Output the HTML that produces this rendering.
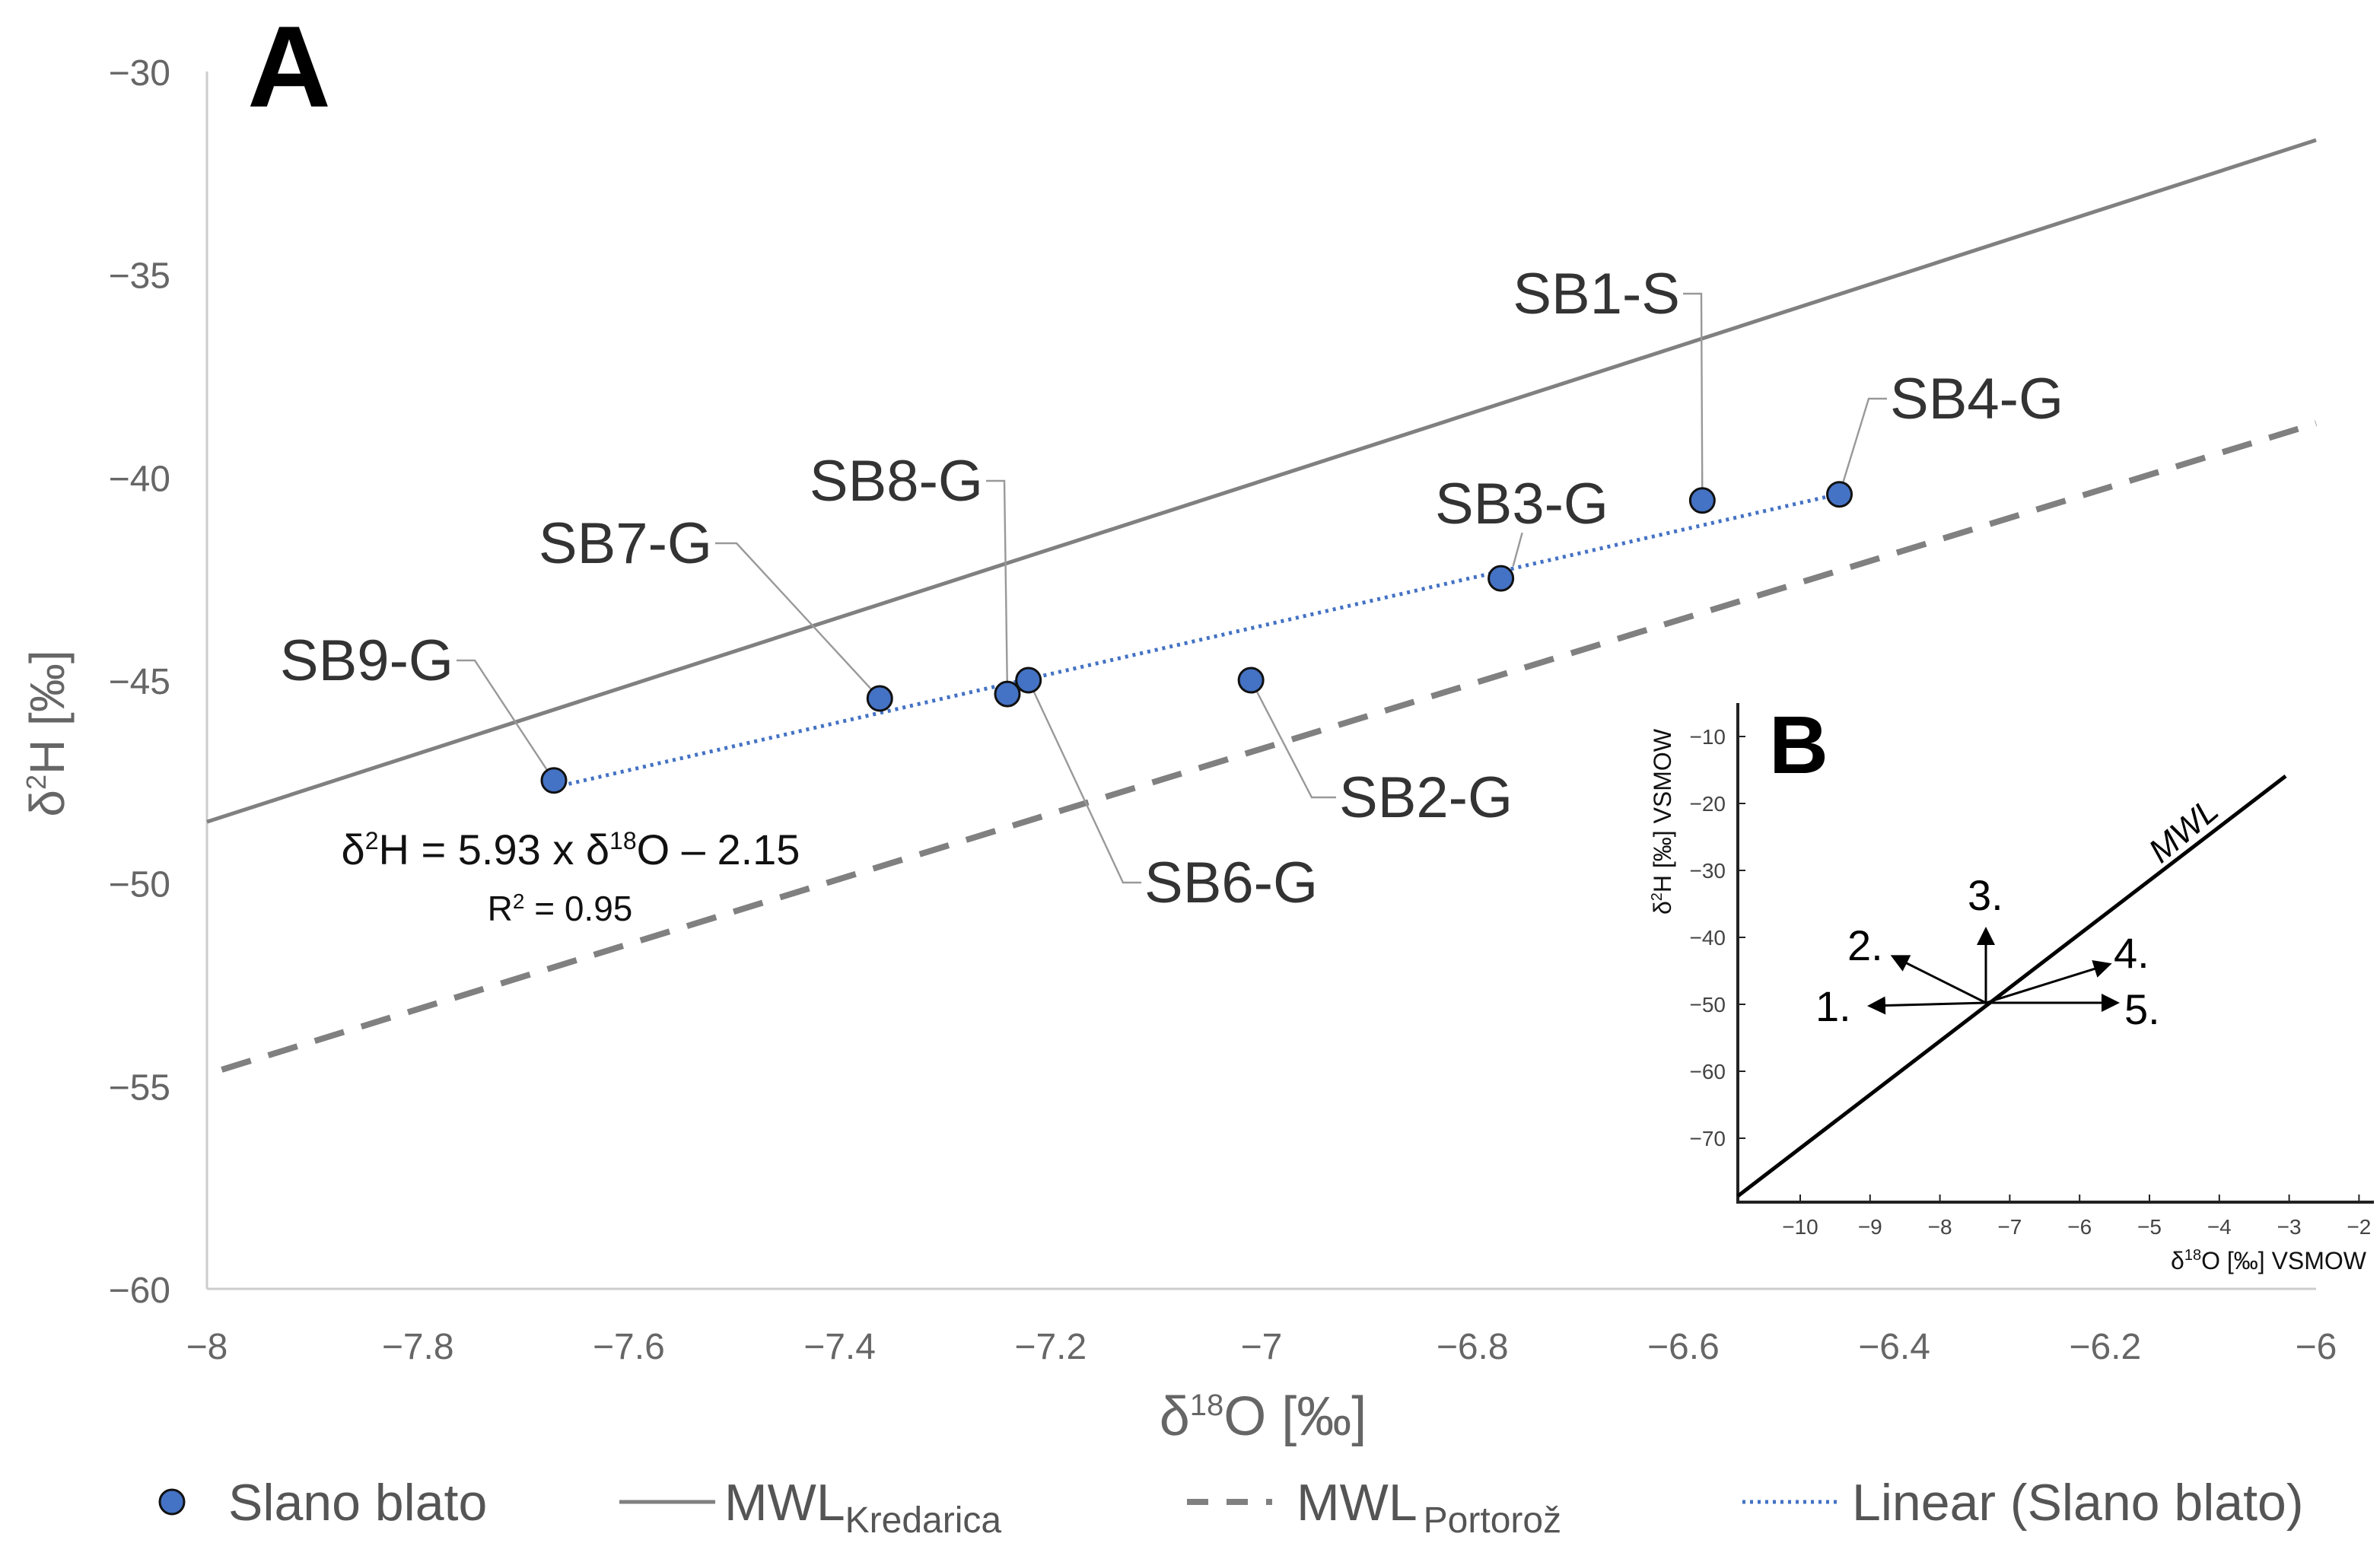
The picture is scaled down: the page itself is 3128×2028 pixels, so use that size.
<!DOCTYPE html>
<html><head><meta charset="utf-8"><style>
html,body{margin:0;padding:0;background:#fff}
svg{display:block}
text{font-family:"Liberation Sans",sans-serif}
</style></head><body>
<svg id="c" width="3128" height="2028" viewBox="0 0 1564 1014"></svg>
<script>
const names=["SB9-G","SB7-G","SB8-G","SB6-G","SB2-G","SB3-G","SB1-S","SB4-G"];
const d18O=[-7.671,-7.362,-7.241,-7.221,-7.010,-6.773,-6.582,-6.452];
const d2H=[-47.47,-45.45,-45.34,-45.0,-45.0,-42.49,-40.57,-40.42];
const xTicks=[-8,-7.8,-7.6,-7.4,-7.2,-7,-6.8,-6.6,-6.4,-6.2,-6];
const yTicks=[-30,-35,-40,-45,-50,-55,-60];
const mwlK=[8.4,18.71]; // slope, intercept
const mwlP=[8.02,9.45];
const fit=[5.93,-2.15];
const insetX=[-10,-9,-8,-7,-6,-5,-4,-3,-2];
const insetY=[-10,-20,-30,-40,-50,-60,-70];

const NS="http://www.w3.org/2000/svg";
const svg=document.getElementById('c');
function el(t,a,txt){const e=document.createElementNS(NS,t);for(const k in a)e.setAttribute(k,a[k]);if(txt!==undefined)e.textContent=txt;svg.appendChild(e);return e;}
const X=v=>136+(v+8)*693;
const Y=v=>47+(-30-v)*26.667;

let e;
e=el('line',{x1:136,y1:47,x2:136,y2:847,stroke:'#ccc','stroke-width':1.5});

e=el('line',{x1:136,y1:847,x2:1522,y2:847,stroke:'#ccc','stroke-width':1.5});

xTicks.forEach(t=>{e=el('text',{x:X(t),y:893,'text-anchor':'middle','font-size':24,fill:'#666'},String(t).replace('-','−'));
});
yTicks.forEach(t=>{e=el('text',{x:112,y:Y(t)+9,'text-anchor':'end','font-size':24,fill:'#666'},String(t).replace('-','−'));
});

e=el('text',{x:0,y:0,'font-size':32,fill:'#666',transform:'translate(42,482) rotate(-90)','text-anchor':'middle'});
e.innerHTML='δ<tspan dy="-12" font-size="18">2</tspan><tspan dy="12">H [‰]</tspan>';

e=el('text',{x:830,y:943,'font-size':36,fill:'#666','text-anchor':'middle'});
e.innerHTML='δ<tspan dy="-13" font-size="20">18</tspan><tspan dy="13">O [‰]</tspan>';


e=el('line',{x1:X(-8),y1:Y(mwlK[0]*-8+mwlK[1]),x2:X(-6),y2:Y(mwlK[0]*-6+mwlK[1]),stroke:'#808080','stroke-width':2.5});

e=el('line',{x1:X(-7.986),y1:Y(mwlP[0]*-7.986+mwlP[1]),x2:X(-6),y2:Y(mwlP[0]*-6+mwlP[1]),stroke:'#808080','stroke-width':4,'stroke-dasharray':'20,12'});

const fx0=Math.min(...d18O),fx1=Math.max(...d18O);
e=el('line',{x1:X(fx0),y1:Y(fit[0]*fx0+fit[1]),x2:X(fx1),y2:Y(fit[0]*fx1+fit[1]),stroke:'#4472C4','stroke-width':2.5,'stroke-dasharray':'2,3'});


const lab=[[298,447,'end',312],[468,370,'end',484],[646,329,'end',660],[752,593,'start',738],[880,537,'start',862],[1000,344,'middle',null],[1104,206,'end',1118],[1242,275,'start',1228]];
names.forEach((n,i)=>{
  const px=X(d18O[i]),py=Y(d2H[i]);const L=lab[i];
  let pts;
  if(L[3]===null) pts=`${px+8},${py-8} ${px+14},${py-30}`;
  else{const sx=L[2]==='end'?L[0]+2:L[0]-2;pts=`${sx},${L[1]-13} ${L[3]},${L[1]-13} ${px},${py}`;}
  e=el('polyline',{points:pts,fill:'none',stroke:'#999','stroke-width':1.2});
  
  e=el('text',{x:L[0],y:L[1],'text-anchor':L[2],'font-size':38,fill:'#333'},n);
  
});
d18O.forEach((v,i)=>{e=el('circle',{cx:X(v),cy:Y(d2H[i]),r:8,fill:'#4472C4',stroke:'#111','stroke-width':1.5});
});

e=el('text',{x:375,y:568,'text-anchor':'middle','font-size':28,fill:'#111'});
e.innerHTML='δ<tspan dy="-10" font-size="16">2</tspan><tspan dy="10">H = 5.93 x δ</tspan><tspan dy="-10" font-size="16">18</tspan><tspan dy="10">O – 2.15</tspan>';

e=el('text',{x:368,y:605,'text-anchor':'middle','font-size':23,fill:'#111'});
e.innerHTML='R<tspan dy="-8" font-size="14">2</tspan><tspan dy="8"> = 0.95</tspan>';

e=el('text',{x:190,y:70,'text-anchor':'middle','font-size':76,'font-weight':'bold',fill:'#000'},'A');


const IX=v=>1183+(v+10)*45.9;
const IY=v=>484+(-10-v)*4.4;
e=el('polyline',{points:`1142,462 1142,790 1560,790`,fill:'none',stroke:'#222','stroke-width':2});

insetX.forEach(t=>{el('line',{x1:IX(t),y1:790,x2:IX(t),y2:785,stroke:'#222'});
e=el('text',{x:IX(t),y:811,'text-anchor':'middle','font-size':14,fill:'#444'},String(t).replace('-','−'));
});
insetY.forEach(t=>{el('line',{x1:1142,y1:IY(t),x2:1147,y2:IY(t),stroke:'#222'});
e=el('text',{x:1134,y:IY(t)+5,'text-anchor':'end','font-size':14,fill:'#444'},String(t).replace('-','−'));
});
e=el('text',{x:1555,y:834,'text-anchor':'end','font-size':16,fill:'#111'});
e.innerHTML='δ<tspan dy="-6" font-size="10">18</tspan><tspan dy="6">O [‰] VSMOW</tspan>';

e=el('text',{x:0,y:0,'font-size':16,fill:'#111',transform:'translate(1098,540) rotate(-90)','text-anchor':'middle'});
e.innerHTML='δ<tspan dy="-6" font-size="10">2</tspan><tspan dy="6">H [‰] VSMOW</tspan>';

e=el('line',{x1:1142,y1:786,x2:1502,y2:510,stroke:'#000','stroke-width':2.5});

e=el('text',{x:0,y:0,'font-size':22,'font-style':'italic',fill:'#000',transform:'translate(1420,568) rotate(-40)'},'MWL');

el('defs',{}).innerHTML='<marker id="ar" markerWidth="8" markerHeight="8" refX="6" refY="4" orient="auto"><path d="M0,0 L8,4 L0,8z" fill="#000"/></marker>';
const cx=1305,cy=659;
[[1230,661,'1.',1193,671],[1245,629,'2.',1214,631],[1305,612,'3.',1293,598],[1385,634,'4.',1389,636],[1390,659,'5.',1396,673]].forEach(a=>{
 e=el('line',{x1:cx,y1:cy,x2:a[0],y2:a[1],stroke:'#000','stroke-width':1.5,'marker-end':'url(#ar)'});
 
 e=el('text',{x:a[3],y:a[4],'font-size':28,fill:'#000'},a[2]);
 
});
e=el('text',{x:1182,y:508,'text-anchor':'middle','font-size':54,'font-weight':'bold',fill:'#000'},'B');


e=el('circle',{cx:113,cy:987,r:8,fill:'#4472C4',stroke:'#111','stroke-width':1.5});

e=el('text',{x:150,y:999,'font-size':34,fill:'#555'},'Slano blato');

el('line',{x1:407,y1:987,x2:470,y2:987,stroke:'#808080','stroke-width':2.5});
e=el('text',{x:476,y:999,'font-size':34,fill:'#555'});e.innerHTML='MWL<tspan dy="8" font-size="24">Kredarica</tspan>';

el('line',{x1:780,y1:987,x2:836,y2:987,stroke:'#808080','stroke-width':4,'stroke-dasharray':'14,12'});
e=el('text',{x:852,y:999,'font-size':34,fill:'#555'});e.innerHTML='MWL<tspan dx="4" dy="8" font-size="24">Portorož</tspan>';

el('line',{x1:1145,y1:987,x2:1210,y2:987,stroke:'#4472C4','stroke-width':2.5,'stroke-dasharray':'2,3'});
e=el('text',{x:1217,y:999,'font-size':34,fill:'#555'},'Linear (Slano blato)');

</script>
</body></html>
